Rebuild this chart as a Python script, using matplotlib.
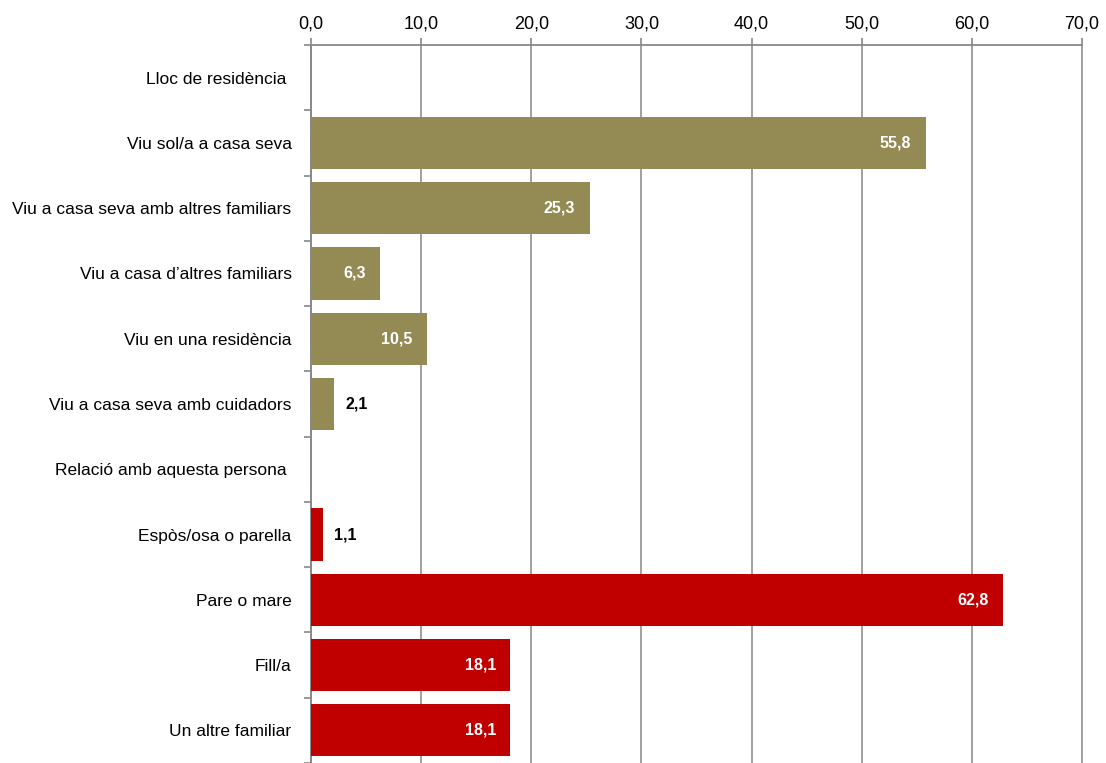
import matplotlib
matplotlib.use('Agg')
import matplotlib.pyplot as plt
import numpy as np

# Dades
categories = ['Lloc de residència ', 'Viu sol/a a casa seva', 'Viu a casa seva amb altres familiars',
              'Viu a casa d’altres familiars', 'Viu en una residència', 'Viu a casa seva amb cuidadors',
              'Relació amb aquesta persona ', 'Espòs/osa o parella', 'Pare o mare', 'Fill/a',
              'Un altre familiar']
valors = [None, 55.8, 25.3, 6.3, 10.5, 2.1, None, 1.1, 62.8, 18.1, 18.1]
grups = [0, 0, 0, 0, 0, 0, 1, 1, 1, 1, 1]
colors_grup = ['#948A54', '#C00000']
xticks = [0, 10, 20, 30, 40, 50, 60, 70]

plt.rcParams['font.family'] = ['Liberation Sans', 'DejaVu Sans']

fig = plt.figure(figsize=(11.06, 7.63), dpi=100)
ax = fig.add_axes([311 / 1106, 0, (1082 - 311) / 1106, 1 - 45 / 763])

n = len(categories)
ypos = np.arange(n)
for y, v, g in zip(ypos, valors, grups):
    if v is None:
        continue
    ax.barh(y, v, height=0.8, color=colors_grup[g], zorder=3)
    if v > 5:
        ax.text(v - 1.3, y, f'{v:.1f}'.replace('.', ','), ha='right', va='center',
                color='white', fontsize=11.5, fontweight='bold', zorder=4)
    else:
        ax.text(v + 1.0, y, f'{v:.1f}'.replace('.', ','), ha='left', va='center',
                color='black', fontsize=11.5, fontweight='bold', zorder=4)

ax.set_xlim(0, 70)
ax.set_ylim(n - 0.5, -0.5)
ax.xaxis.tick_top()
ax.set_xticks(xticks)
ax.set_xticklabels([f'{t:.1f}'.replace('.', ',') for t in xticks], fontsize=13)
ax.tick_params(axis='x', length=5, color='#888888', width=1.2, pad=4)
ax.grid(axis='x', color='#999999', linewidth=1.3, zorder=0)
for gl in ax.get_xgridlines():
    gl.set_clip_on(False)

ax.set_yticks(ypos)
ax.set_yticklabels(categories, fontsize=12.5)
ax.set_yticks(np.arange(-0.5, n, 1), minor=True)
ax.tick_params(axis='y', which='major', length=0, pad=14)
ax.tick_params(axis='y', which='minor', length=5, color='#888888', width=1.2)

for s in ['right', 'bottom']:
    ax.spines[s].set_visible(False)
for s in ['top', 'left']:
    ax.spines[s].set_color('#888888')
    ax.spines[s].set_linewidth(1.3)

fig.savefig('out.png', dpi=100)
